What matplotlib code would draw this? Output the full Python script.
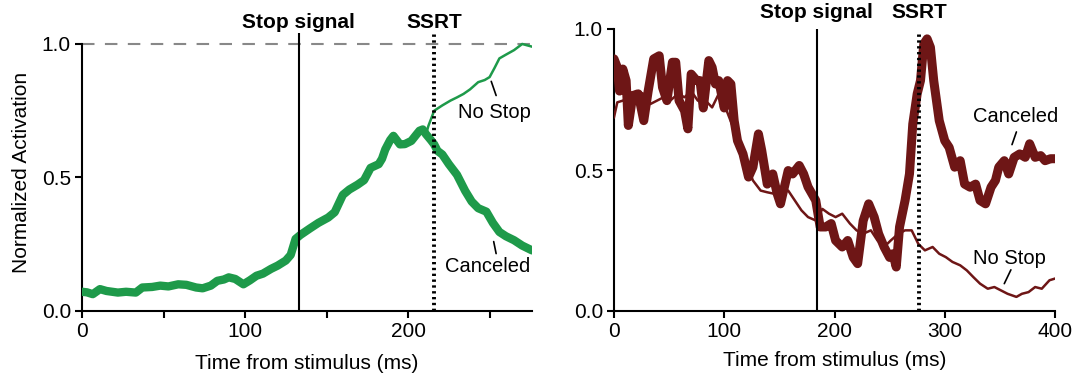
import matplotlib
matplotlib.use('Agg')
import matplotlib.pyplot as plt
import matplotlib.transforms as mtransforms

plt.rcParams['font.family'] = ['Liberation Sans', 'DejaVu Sans']

# left panel (green), time in ms
left_canc_t = [0, 3, 6.6, 11, 15, 22, 27, 33, 37, 43, 48, 53, 59, 64, 70, 74, 79, 83, 87, 90,
               94, 99, 103, 107, 111, 116, 120, 125, 128, 131, 134, 140, 145, 151, 155, 160,
               164, 169, 173, 177, 182, 184, 186, 189, 191, 193, 195, 198, 202, 205, 207, 209,
               211, 214, 216, 218, 221, 225, 230, 235, 239, 243, 248, 252, 256, 260, 265, 270, 276]
left_canc_v = [.072, .070, .063, .082, .075, .069, .072, .069, .088, .090, .095, .092, .100, .098,
               .088, .085, .095, .113, .118, .126, .120, .100, .115, .132, .140, .158, .170, .189,
               .210, .270, .285, .310, .330, .350, .370, .435, .455, .473, .490, .536, .550, .570,
               .605, .640, .656, .640, .624, .625, .637, .660, .675, .680, .662, .640, .624, .600,
               .586, .550, .510, .450, .410, .385, .372, .330, .296, .280, .265, .245, .227]

left_nostop_t = [0, 3, 6.6, 11, 15, 22, 27, 33, 37, 43, 48, 53, 59, 64, 70, 74, 79, 83, 87, 90,
                 94, 99, 103, 107, 111, 116, 120, 125, 128, 131, 134, 140, 145, 151, 155, 160,
                 164, 169, 173, 177, 182, 184, 186, 189, 191, 193, 195, 198, 202, 205, 207, 209,
                 211, 212.5, 216, 221, 226, 230, 234, 238, 243, 247, 250, 253, 256, 260, 265,
                 270, 273, 276]
left_nostop_v = [.072, .070, .063, .082, .075, .069, .072, .069, .088, .090, .095, .092, .100, .098,
                 .088, .085, .095, .113, .118, .126, .120, .100, .115, .132, .140, .158, .170, .189,
                 .210, .270, .285, .310, .330, .350, .370, .435, .455, .473, .490, .536, .550, .570,
                 .605, .640, .656, .640, .624, .625, .637, .660, .675, .680, .662, .694, .750, .770,
                 .788, .800, .813, .830, .857, .865, .876, .910, .946, .960, .977, 1.0, .995, .990]

left_stop = 133
left_ssrt = 216

# right panel (dark red)
right_canc_t = [0, 3, 5, 8, 11, 13, 17, 22, 27, 31, 36, 41, 44, 48, 53, 56, 59, 64, 67, 70, 75,
                78, 81, 86, 89, 92, 95, 100, 103, 106, 109, 112, 117, 122, 126, 131, 134, 139,
                144, 148, 151, 158, 162, 168, 172, 176, 183, 187, 192, 197, 201, 207, 212, 217,
                221, 226, 231, 236, 240, 245, 250, 253, 256, 259, 264, 268, 271, 275, 278, 281,
                284, 287, 290, 295, 300, 304, 309, 314, 318, 323, 328, 332, 337, 342, 346, 349,
                354, 358, 363, 368, 373, 377, 382, 387, 391, 396, 400]
right_canc_v = [.894, .864, .780, .858, .817, .658, .764, .770, .675, .780, .894, .905, .793, .746,
                .882, .882, .746, .710, .646, .840, .817, .817, .720, .888, .864, .805, .817, .720,
                .817, .805, .675, .604, .557, .475, .510, .628, .569, .450, .486, .416, .380, .498,
                .486, .516, .486, .440, .392, .298, .298, .310, .250, .227, .250, .190, .168, .320,
                .380, .333, .274, .227, .190, .203, .156, .298, .392, .486, .663, .770, .817, .947,
                .965, .935, .817, .675, .604, .580, .510, .533, .450, .439, .450, .392, .380, .439,
                .463, .510, .533, .486, .545, .557, .545, .593, .545, .551, .533, .540, .540]

right_nostop_t = [0, 3, 8, 14, 20, 27, 33, 39, 45, 51, 58, 64, 70, 76, 83, 89, 95, 101, 108, 114,
                  120, 126, 133, 139, 145, 151, 158, 164, 170, 176, 183, 189, 195, 201, 207, 214,
                  220, 226, 233, 239, 245, 251, 258, 264, 270, 276, 282, 289, 295, 301, 307, 314,
                  320, 326, 332, 339, 345, 351, 357, 365, 370, 376, 382, 388, 395, 400]
right_nostop_v = [.687, .740, .746, .758, .780, .770, .734, .746, .758, .746, .770, .758, .780,
                  .746, .746, .722, .770, .722, .652, .604, .522, .463, .427, .421, .416, .416,
                  .427, .392, .357, .333, .321, .362, .345, .333, .345, .310, .286, .274, .286,
                  .250, .227, .250, .274, .286, .286, .238, .215, .227, .203, .191, .174, .162,
                  .144, .120, .097, .079, .085, .073, .061, .050, .061, .067, .085, .079, .109, .115]

right_stop = 184
right_ssrt = 277

green = '#1e9a4a'
darkred = '#6e1616'
fs = 15

fig = plt.figure(figsize=(10.79, 3.79), dpi=100)
ax1 = fig.add_axes([82 / 1079, 68 / 379, 450 / 1079, 277.7 / 379])
ax2 = fig.add_axes([614 / 1079, 68 / 379, 441 / 1079, 282 / 379])

leader = dict(arrowstyle='-', lw=1.2, color='black', shrinkA=0, shrinkB=0)

# left panel
ax1.axhline(1.0, color='#888888', lw=1.5, ls=(0, (6, 5)), zorder=1)
ax1.plot(left_nostop_t, left_nostop_v, color=green, lw=1.8, zorder=3)
ax1.plot(left_canc_t, left_canc_v, color=green, lw=6, solid_capstyle='round',
         solid_joinstyle='round', zorder=3)
ax1.axvline(left_stop, color='black', lw=1.5, zorder=4)
ax1.axvline(left_ssrt, color='black', lw=2.8, ls=(0, (0.6, 0.9)), zorder=4)
ax1.set_xlim(0, 276)
ax1.set_ylim(0, 1.04)
ax1.spines['left'].set_bounds(0, 1)
ax1.set_xticks([0, 100, 200])
ax1.set_xticks([50, 150, 250], minor=True)
ax1.set_yticks([0, 0.5, 1.0])
ax1.set_yticklabels(['0.0', '0.5', '1.0'])
ax1.set_xlabel('Time from stimulus (ms)', fontsize=fs, labelpad=9)
ax1.set_ylabel('Normalized Activation', fontsize=fs, labelpad=8)
ax1.text(253, 0.745, 'No Stop', fontsize=fs - 0.5, ha='center', va='center')
ax1.annotate('', xy=(254, 0.807), xytext=(251, 0.86), arrowprops=leader)
ax1.text(249, 0.165, 'Canceled', fontsize=fs - 0.5, ha='center', va='center')
ax1.annotate('', xy=(254, 0.215), xytext=(252.5, 0.26), arrowprops=leader)

# right panel
ax2.plot(right_nostop_t, right_nostop_v, color=darkred, lw=1.8, zorder=3)
ax2.plot(right_canc_t, right_canc_v, color=darkred, lw=6.5, solid_capstyle='round',
         solid_joinstyle='round', zorder=3)
ax2.axvline(right_stop, color='black', lw=1.5, zorder=4)
ax2.axvline(right_ssrt, color='black', lw=2.8, ls=(0, (0.6, 0.9)), ymax=0.985, zorder=4)
ax2.set_xlim(0, 400)
ax2.set_ylim(0, 1.0)
ax2.set_xticks([0, 100, 200, 300, 400])
ax2.set_yticks([0, 0.5, 1.0])
ax2.set_yticklabels(['0.0', '0.5', '1.0'])
ax2.set_xlabel('Time from stimulus (ms)', fontsize=fs, labelpad=7)
ax2.text(364, 0.69, 'Canceled', fontsize=fs - 0.5, ha='center', va='center')
ax2.annotate('', xy=(361, 0.59), xytext=(365, 0.635), arrowprops=leader)
ax2.text(359, 0.185, 'No Stop', fontsize=fs - 0.5, ha='center', va='center')
ax2.annotate('', xy=(354, 0.097), xytext=(360, 0.146), arrowprops=leader)

for ax in (ax1, ax2):
    ax.spines['top'].set_visible(False)
    ax.spines['right'].set_visible(False)
    ax.spines['left'].set_linewidth(1.5)
    ax.spines['bottom'].set_linewidth(1.5)
    ax.tick_params(which='both', direction='out', length=5, width=1.5, labelsize=fs, pad=3)

# event labels above the lines
trans1 = mtransforms.blended_transform_factory(ax1.transData, fig.transFigure)
ax1.text(left_stop, 1 - 22 / 379, 'Stop signal', transform=trans1, ha='center', va='center',
         fontsize=fs, fontweight='bold')
ax1.text(left_ssrt, 1 - 22 / 379, 'SSRT', transform=trans1, ha='center', va='center',
         fontsize=fs, fontweight='bold')
trans2 = mtransforms.blended_transform_factory(ax2.transData, fig.transFigure)
ax2.text(right_stop, 1 - 12 / 379, 'Stop signal', transform=trans2, ha='center', va='center',
         fontsize=fs, fontweight='bold')
ax2.text(right_ssrt, 1 - 12 / 379, 'SSRT', transform=trans2, ha='center', va='center',
         fontsize=fs, fontweight='bold')

fig.savefig('out.png', dpi=100)
